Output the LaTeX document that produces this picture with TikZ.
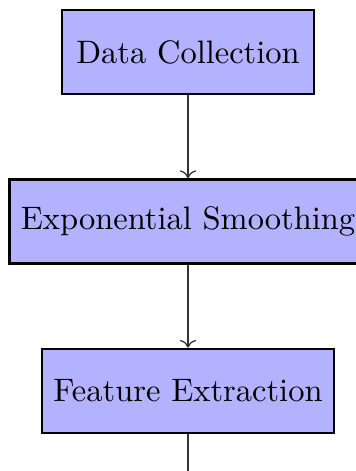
\documentclass[tikz,border=0pt]{standalone}
\usetikzlibrary{arrows.meta}
\begin{document}
\begin{tikzpicture}[x=0.3155pt, y=-0.3155pt,
  stepbox/.style={draw=black, thick, fill=blue!30, minimum width=79.5pt, minimum height=26.5pt, inner xsep=3.6pt, inner ysep=3.33pt, font=\fontsize{10.25pt}{12.3pt}\selectfont},
  flow/.style={->, draw=black!80}]
\useasboundingbox (0,0) rectangle (356,471);
\clip (0,0) rectangle (356,471);
\node[stepbox] (dc) at (188,52) {Data Collection};
\node[stepbox] (es) at (188,221.5) {Exponential Smoothing};
\node[stepbox] (fe) at (188,391) {Feature Extraction};
\coordinate (nx) at (188,518);
\draw[flow] (dc) -- (es);
\draw[flow] (es) -- (fe);
\draw[flow] (fe) -- (nx);
\end{tikzpicture}
\end{document}
